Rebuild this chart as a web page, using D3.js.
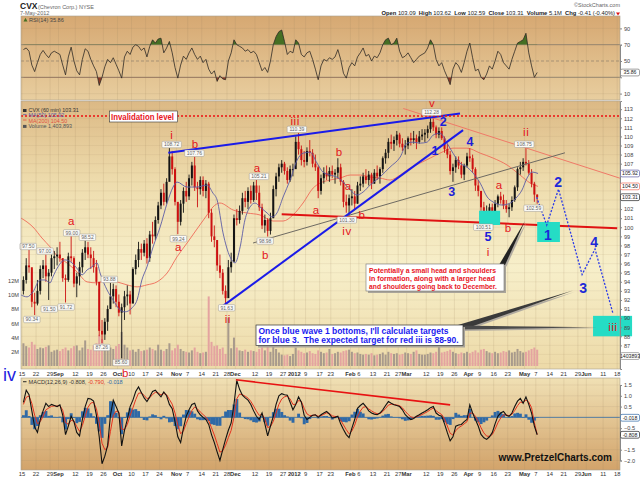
<!DOCTYPE html>
<html>
<head>
<meta charset="utf-8">
<script src="https://cdn.jsdelivr.net/npm/d3@7"></script>
<style>
  body { margin: 0; background: #fff; }
  svg { display: block; font-family: "Liberation Sans", Arial, sans-serif; }
</style>
</head>
<body>
<svg id="chart" width="640" height="479"></svg>
<script>
// ---------- calendar / axis ----------
var holidays = ["2011-09-05","2011-11-24","2011-12-26","2012-01-02","2012-01-16","2012-02-20","2012-04-06","2012-05-28"];
var tickLabels = [
  ["2011-08-15","15"],["2011-08-22","22"],["2011-08-29","29"],["2011-09-01","Sep"],["2011-09-12","12"],
  ["2011-09-19","19"],["2011-09-26","26"],["2011-10-03","Oct"],["2011-10-10","10"],["2011-10-17","17"],
  ["2011-10-24","24"],["2011-11-01","Nov"],["2011-11-07","7"],["2011-11-14","14"],["2011-11-21","21"],
  ["2011-11-28","28"],["2011-12-01","Dec"],["2011-12-12","12"],["2011-12-19","19"],["2011-12-27","27"],
  ["2012-01-03","2012"],["2012-01-09","9"],["2012-01-17","17"],["2012-01-23","23"],["2012-02-01","Feb"],
  ["2012-02-06","6"],["2012-02-13","13"],["2012-02-21","21"],["2012-02-27","27"],["2012-03-01","Mar"],
  ["2012-03-12","12"],["2012-03-19","19"],["2012-03-26","26"],["2012-04-02","Apr"],["2012-04-09","9"],
  ["2012-04-16","16"],["2012-04-23","23"],["2012-05-01","May"],["2012-05-07","7"],["2012-05-14","14"],
  ["2012-05-21","21"],["2012-05-29","29"],["2012-06-01","Jun"],["2012-06-11","11"],["2012-06-18","18"]
];

// ---------- daily price data (60 min chart read per trading day) ----------
var firstOpen = 93.0;
var dayLow = [
  92.6,93.8,95.0,91.2,90.34,91.4,92.6,94.4,94.0,92.0,94.6,95.4,95.8,
  96.2,94.0,91.72,94.0,96.2,93.4,92.3,93.6,95.0,96.4,96.6,95.4,95.0,93.6,88.0,87.26,87.6,88.6,91.0,91.6,91.2,
  90.2,85.6,89.8,91.4,90.4,92.6,94.8,95.6,96.4,96.8,96.0,96.2,98.2,98.6,100.4,102.0,102.4,102.6,105.6,105.8,102.4,
  99.24,100.2,101.6,102.8,103.0,104.6,104.0,102.2,103.6,103.4,103.2,101.0,98.4,97.8,95.2,94.4,92.6,91.63,93.8,95.0,97.8,
  100.2,100.4,101.4,102.2,102.0,102.6,102.8,103.0,101.8,99.8,99.4,98.98,99.2,101.0,103.4,105.0,106.0,105.8,104.8,105.0,105.6,
  107.0,108.0,106.8,106.6,106.8,107.8,106.6,106.2,103.2,103.6,104.8,105.2,105.0,105.4,104.8,105.4,104.6,102.2,101.6,101.3,
  102.4,102.0,102.6,104.0,104.4,104.8,104.6,104.2,104.8,105.2,104.8,106.0,107.0,107.6,108.6,108.4,109.0,108.8,108.4,108.0,
  108.6,109.0,109.2,108.6,109.2,109.6,109.4,109.8,110.4,110.6,109.8,109.8,109.6,108.2,107.6,105.8,105.0,106.0,106.4,105.4,105.2,106.6,
  107.2,106.0,104.0,103.4,101.8,100.8,100.51,100.7,100.8,101.0,102.2,102.6,102.0,101.6,101.1,101.8,102.8,104.0,105.8,106.2,
  106.8,105.8,104.4,102.8,102.59
];
var dayHigh = [
  94.6,96.6,97.5,95.4,92.8,94.2,95.8,96.4,97.0,95.4,97.0,97.4,97.8,
  98.4,96.6,94.8,97.2,99.0,96.8,95.0,96.2,97.6,98.52,98.4,97.8,97.4,96.4,93.2,89.8,90.0,91.4,93.88,93.8,93.6,
  92.6,91.6,93.0,93.6,93.0,95.6,97.0,98.4,98.2,98.6,98.8,99.6,100.6,101.2,102.8,104.2,104.8,105.4,108.72,108.4,106.6,
  102.6,103.0,104.4,105.0,105.8,107.2,107.76,105.0,105.6,105.6,105.2,105.0,102.0,100.2,98.4,97.0,95.4,93.6,96.4,97.2,101.4,
  102.0,102.4,103.8,104.0,104.4,104.6,105.0,105.21,104.6,102.6,101.4,101.0,101.6,104.6,106.0,107.0,107.4,107.2,106.6,106.8,107.0,
  110.0,110.39,109.0,108.4,108.8,109.6,108.6,108.0,106.8,105.8,106.6,106.8,106.6,106.8,106.4,107.6,107.0,105.2,103.6,103.6,
  104.2,104.0,105.0,105.6,106.0,106.4,106.2,106.0,106.4,106.8,106.6,107.8,108.6,109.8,110.2,110.0,110.6,110.4,109.8,109.6,
  110.0,110.4,110.6,110.2,110.6,110.8,110.8,111.2,112.0,112.28,111.2,111.0,111.0,110.0,109.2,108.4,107.0,107.8,107.8,107.2,107.0,108.2,
  108.7,108.0,106.6,105.2,104.0,102.8,102.4,102.6,102.6,103.0,103.6,103.9,103.6,103.0,102.6,103.4,104.6,106.6,107.2,107.6,
  108.75,107.4,106.4,105.0,103.62
];
var dayClose = [
  94.2,95.8,95.6,91.8,91.6,93.0,95.4,95.8,94.6,95.0,96.6,96.8,97.0,
  96.6,94.4,94.2,96.8,96.6,93.8,94.6,95.6,97.2,97.8,97.0,96.6,95.6,94.0,88.6,88.2,89.6,91.0,92.4,93.2,91.8,
  90.6,91.2,92.4,92.6,91.6,95.4,96.4,97.6,97.2,98.2,96.6,99.2,99.0,100.8,102.4,103.8,102.8,105.0,107.8,106.4,102.8,
  100.6,102.6,104.0,103.4,105.4,106.8,104.4,104.2,105.2,104.0,104.8,101.6,99.0,98.6,95.8,95.0,93.0,92.2,95.6,96.2,101.0,
  100.8,101.8,103.2,102.8,104.0,103.0,104.6,103.8,102.2,100.2,100.8,99.6,101.0,104.2,105.6,106.6,107.0,106.2,105.2,106.4,106.4,
  109.4,108.6,107.4,107.2,108.4,108.2,107.0,106.6,104.0,105.4,106.0,105.6,106.2,105.8,106.0,106.6,105.0,102.8,102.4,103.2,
  103.4,102.6,104.6,104.8,105.6,105.2,105.8,104.8,106.0,105.6,106.4,107.6,108.2,109.4,109.2,109.6,110.2,109.2,108.8,109.0,
  109.8,109.6,109.8,109.4,110.0,110.2,110.4,110.8,111.6,111.0,110.2,110.6,109.8,108.6,108.0,106.2,106.6,107.4,106.8,105.8,106.8,107.8,
  107.6,106.4,104.6,104.0,102.2,101.2,101.8,102.2,101.2,102.6,103.4,103.0,102.4,102.0,102.2,103.0,104.4,106.4,106.6,107.2,
  107.0,106.0,104.8,103.6,103.31
];
// hourly volume level per day, millions
var dayVolume = [
  3.2,2.8,2.6,3.4,3.0,2.4,2.6,2.5,2.7,2.9,2.0,2.2,2.3,
  2.1,2.4,2.6,2.2,2.5,2.8,2.9,2.2,2.6,3.6,2.4,2.3,2.9,3.2,4.4,3.8,2.7,2.9,2.6,2.4,2.8,
  3.1,4.8,3.0,2.6,2.2,2.3,2.0,2.4,2.1,2.2,2.3,2.6,2.4,2.2,3.0,2.3,2.1,2.4,3.2,2.2,2.5,
  3.0,2.4,2.1,2.0,1.9,2.2,2.6,2.0,1.8,1.9,2.0,9.8,3.4,2.8,2.9,2.4,2.6,1.7,6.8,2.5,4.0,
  2.6,2.2,2.1,2.3,2.0,2.2,2.1,2.0,2.4,2.6,2.2,3.4,2.0,2.8,2.4,1.9,1.6,1.5,1.6,1.4,1.7,
  2.6,2.2,2.0,1.8,1.9,2.1,1.8,1.7,2.2,2.0,1.8,1.9,2.4,1.7,1.8,2.0,1.9,2.1,2.2,2.3,
  2.0,1.8,1.9,1.7,1.6,1.7,1.6,1.8,1.5,1.6,1.7,1.9,1.6,2.0,1.8,1.7,1.8,1.6,1.7,1.9,
  1.8,1.7,2.0,2.2,1.7,1.6,1.6,1.7,1.9,1.8,2.0,3.0,1.9,2.0,2.1,2.3,2.0,1.8,1.7,1.9,1.8,2.0,
  1.8,2.0,2.2,1.9,2.3,2.4,2.1,1.9,1.8,2.0,1.8,1.9,2.1,2.0,2.2,1.9,2.0,2.4,2.1,1.9,
  2.0,2.2,2.4,2.6,2.3
];
var rsiValues = [
  64,66,62,45,37,48,58,63,58,54,60,62,60,
  58,45,33,55,67,50,38,33,52,65,62,52,44,37,20,30,43,52,48,54,46,
  38,29,55,62,58,67,70,68,63,66,55,68,76,72,77,78,60,66,74,60,42,
  29,45,56,52,60,66,58,52,56,48,52,40,34,38,25,32,28,27,50,60,76,
  70,68,66,62,64,60,62,58,48,38,42,36,50,70,80,86,88,74,58,62,60,
  76,72,58,55,60,62,52,40,27,44,52,50,54,52,55,64,52,35,29,42,
  48,44,55,60,66,56,58,50,56,54,60,70,76,78,70,72,78,62,54,56,
  60,54,48,52,56,58,60,66,76,70,52,44,48,38,30,21,40,48,44,36,48,62,
  72,54,38,40,30,27,34,44,40,50,62,58,48,44,40,52,62,72,74,76,
  84,60,44,30,35.86
];
var macdValues = [
  0.7,1.26,1.05,0.3,-0.45,-0.7,-0.1,0.3,0.65,0.5,0.6,0.55,0.5,
  0.58,0.1,-0.8,-0.4,0.05,-0.2,-0.7,-0.86,-0.1,0.5,0.88,0.85,0.75,0.1,-0.9,-2.15,-1.8,-1.3,0.1,0.8,0.5,
  0.2,-1.32,-0.6,-0.1,0.5,0.8,1.2,1.41,1.15,0.9,0.73,0.95,1.2,1.26,1.1,0.95,1.18,1.0,0.6,0.4,-0.2,
  -0.9,-1.17,-0.5,0.05,0.35,0.6,0.65,0.3,0.12,0.0,-0.1,-0.33,-0.8,-1.17,-1.6,-2.0,-1.5,-1.02,-0.6,-0.26,0.6,
  1.71,1.3,1.03,0.9,0.8,0.6,0.3,0.05,-0.1,0.2,-0.3,-0.86,-0.4,0.05,0.6,1.0,1.1,1.05,1.03,0.7,0.35,
  0.6,0.95,0.7,0.1,-0.1,0.0,0.1,0.12,0.0,0.12,0.2,0.27,0.15,-0.03,0.0,0.05,-0.3,-0.56,-0.8,-0.94,
  -0.5,-0.1,0.42,0.55,0.65,0.5,0.3,0.2,0.15,0.12,0.2,0.35,0.55,0.73,0.65,0.58,0.55,0.5,0.35,0.12,
  0.0,-0.1,-0.05,0.05,0.12,0.2,0.27,0.35,0.45,0.5,0.2,0.1,0.05,-0.3,-0.71,-1.09,-0.9,-0.41,-0.35,-0.33,-0.2,-0.1,
  0.58,0.2,-0.1,-0.4,-0.79,-0.95,-1.02,-0.9,-0.71,-0.3,0.05,0.2,0.27,0.1,0.05,0.2,0.5,0.75,0.88,0.65,
  0.95,0.6,0.2,-0.4,-0.808
];
var signalValues = [
  0.6,0.93,0.99,0.65,0.1,-0.3,-0.2,0.05,0.35,0.43,0.51,0.53,0.52,
  0.55,0.33,-0.24,-0.32,-0.14,-0.17,-0.43,-0.65,-0.38,0.06,0.47,0.66,0.7,0.4,-0.25,-1.2,-1.5,-1.4,-0.65,0.08,0.29,
  0.24,-0.54,-0.57,-0.33,0.08,0.44,0.82,1.12,1.13,1.02,0.87,0.91,1.06,1.16,1.13,1.04,1.11,1.05,0.83,0.61,0.2,
  -0.35,-0.76,-0.63,-0.29,0.03,0.32,0.48,0.39,0.25,0.13,0.01,-0.16,-0.48,-0.82,-1.21,-1.61,-1.55,-1.29,-0.94,-0.6,0.0,
  0.86,1.08,1.05,0.98,0.89,0.74,0.52,0.29,0.09,0.15,-0.08,-0.47,-0.43,-0.19,0.2,0.6,0.85,0.95,0.99,0.85,0.6,
  0.6,0.78,0.74,0.42,0.16,0.08,0.09,0.11,0.05,0.08,0.14,0.21,0.18,0.07,0.04,0.04,-0.13,-0.35,-0.57,-0.76,
  -0.63,-0.36,0.03,0.29,0.47,0.49,0.39,0.3,0.22,0.17,0.18,0.27,0.41,0.57,0.61,0.6,0.57,0.54,0.44,0.28,
  0.14,0.02,-0.01,0.02,0.07,0.13,0.2,0.27,0.36,0.43,0.31,0.21,0.13,-0.08,-0.4,-0.74,-0.82,-0.62,-0.48,-0.4,-0.3,-0.2,
  0.19,0.2,0.05,-0.18,-0.48,-0.72,-0.87,-0.88,-0.8,-0.55,-0.25,-0.03,0.12,0.11,0.08,0.14,0.32,0.54,0.71,0.68,
  0.81,0.71,0.45,-0.25,-0.79
];

// moving averages: [day index, price]
var ma50 = [[-0.4,92.56],[1.8,92.34],[3.9,92.89],[6.4,94.2],[8.2,94.2],[10,93.88],[11,94.54],[12.8,95.64],[15.3,96.41],[17.8,96.08],[20,95.31],[21.4,94.76],[23.2,95.31],[24.9,95.64],[26.7,96.08],[27.8,94.97],[30.3,93.1],[32.4,92.01],[34.9,90.91],[36.7,90.69],[39.2,91.13],[41,92.01],[42.7,94.2],[44.5,95.64],[46.7,97.84],[49.2,100.03],[51.7,102.67],[53.8,104.43],[55.2,104.98],[58.8,104.43],[62.3,104.43],[65.9,104.65],[68,103.77],[69.5,103],[71.6,99.38],[74.1,96.74],[75.9,96.08],[77.7,97.84],[79.4,100.8],[81.2,102.23],[83,102.67],[84.8,102.23],[87.3,101.57],[89.1,101.13],[90.8,101.57],[93,103.33],[95.5,105.2],[98,107.4],[100.1,108.16],[102.6,108.27],[105.1,107.06],[107.2,106.07],[109.7,105.75],[112.2,105.51],[114.4,104.98],[116.9,104.1],[119.3,103.55],[121.5,103.88],[124,104.65],[127.5,105.53],[131.1,106.63],[134.7,107.73],[137.2,109.26],[139.3,109.37],[141.8,109.26],[144.3,109.37],[146.4,110.14],[148.9,110.36],[151.4,109.26],[153.5,108.16],[156,107.06],[158.5,106.62],[160.7,105.96],[163.2,104.86],[165.7,103.33],[167.8,102.78],[171,102.45],[173.9,102.67],[176.3,103.33],[178.1,104.1],[179.9,105.42],[181.7,106.08],[183.8,105.92]];
var ma200 = [[-0.4,101.02],[1.8,100.58],[3.9,100.03],[7.1,98.82],[10,97.84],[12.8,96.74],[16,96.08],[19.6,95.09],[23.2,93.99],[26.7,93.88],[30.3,94.2],[33.8,93.99],[37.4,93.66],[41,93.44],[44.5,93.66],[48.1,93.99],[51.7,94.97],[55.2,96.74],[58.8,98.27],[62.3,99.8],[65.9,101.35],[68,102.23],[70.5,102.67],[75.2,101.9],[80.2,101.57],[84.8,101.35],[89.4,100.69],[93,100.69],[96.5,101.35],[100.1,102.67],[103.7,104.32],[106.2,104.87],[109.7,105.2],[113.3,105.42],[116.9,105.75],[120.4,105.75],[124,105.53],[127.5,105.42],[131.1,105.2],[134.7,105.75],[138.2,106.52],[141.8,107.07],[145.4,107.62],[148.9,108.16],[153.5,108.71],[158.5,108.71],[163.2,108.16],[167.8,107.62],[172.8,106.85],[177.4,105.75],[181,104.87],[183.8,104.5]];

// ---------- annotations (day index, price) ----------
var invalidationLevel = 112.25;
var blueUpper = [[52.1,108.2],[156.0,112.53]];
var blueLower = [[71.1,91.24],[157.1,110.7]];
var grayRise = [[82.3,98.27],[193.4,108.2]];
var salmonFall = [[135.8,113.08],[213,105.4]];
var neckline = [[92.5,101.43],[212,99.9]];
var projection = [[183.3,103.31],[186.9,100.25],[191.1,104.2],[199.5,94.8],[204.1,97.6],[210.5,90.5]];
var cyanBoxes = [[162.8,170.3,100.25,101.82],[183.5,191.6,98.38,100.58],[203.4,217.3,88.0,90.25]];
var macdTrend = [[76.2,1.74],[152.5,0.58]];
var redWaves = [["a",17.5,100.69],["i",53.3,110.2],["b",61.6,109.15],["a",55.6,97.8],["iii",97.3,111.75],
  ["a",83.7,106.52],["b",86.6,96.95],["ii",73.3,89.9],["b",112.9,108.31],["a",116.1,104.54],["a",104.7,101.9],
  ["b",121.0,101.41],["iv",115.8,99.6],["v",146.0,113.75],["ii",179.6,110.5],["a",169.9,104.65],["b",173.1,99.89],
  ["i",166.0,97.3],["iii",210.5,89.08],["b",36.8,83.95]];
var blueWaves = [["2",150.0,111.6],["1",147.1,108.49],["4",159.6,109.41],["3",153.1,103.91],["5",166.0,99.0]];
var projWaves = [["1",187.3,99.15],["2",191.0,104.98],["3",199.9,93.3],["4",203.8,98.42]];
// value flags: [day index, price, 1 above / -1 below]
var priceFlags = [[2.2,97.50,1],[3.5,90.34,-1],[8.2,97.00,1],[9.7,91.50,-1],[17.7,99.00,1],[15.7,91.72,-1],
  [23.3,98.52,1],[31.1,93.88,1],[28.4,87.26,-1],[35.3,85.60,-1],[53.3,108.72,1],[61.4,107.76,1],[55.7,99.24,-1],
  [84.4,105.21,1],[86.6,98.98,-1],[97.9,110.39,1],[72.9,91.63,-1],[115.7,101.30,-1],[145.9,112.28,1],
  [164.3,100.51,-1],[178.9,108.75,1],[182.2,102.59,-1]];

// ---------- setup ----------
var fmt = d3.utcFormat("%Y-%m-%d");
var days = d3.utcDays(new Date(Date.UTC(2011,7,15)), new Date(Date.UTC(2012,5,23)))
  .filter(function(d){ return d.getUTCDay() % 6 !== 0 && holidays.indexOf(fmt(d)) < 0; })
  .map(fmt);
var dayIndex = {};
days.forEach(function(d, i){ dayIndex[d] = i; });

var L = 21, R = 620;
var panel = {rsi: [16, 100], main: [101, 369], macd: [378, 470]};

var x = d3.scaleLinear().domain([-0.36, 213]).range([L, R]);
var yP = d3.scaleLinear().domain([84.4, 113.9]).range([369, 101]);
var yV = d3.scaleLinear().domain([0, 12]).range([366, 280.8]);
var yR = d3.scaleLinear().domain([30, 70]).range([77.3, 44.7]);
var yM = d3.scaleLinear().domain([-2, 1.5]).range([460.5, 385]);

var svg = d3.select("#chart");
var defs = svg.append("defs");

function gradient(id, stops) {
  var g = defs.append("linearGradient").attr("id", id)
      .attr("x1", 0).attr("y1", 0).attr("x2", 0).attr("y2", 1);
  stops.forEach(function(s){ g.append("stop").attr("offset", s[0]).attr("stop-color", s[1]); });
}
gradient("bgRsi", [[0, "#d6a872"], [1, "#e8ce9f"]]);
gradient("bgMain", [[0, "#dcb985"], [0.3, "#eedcad"], [0.62, "#f7efca"], [1, "#eddaa8"]]);
gradient("bgMacd", [[0, "#f0e0b4"], [1, "#d2a36a"]]);

function clip(id, y0, y1) {
  defs.append("clipPath").attr("id", id).append("rect")
      .attr("x", L).attr("y", y0).attr("width", R - L).attr("height", y1 - y0);
}
clip("cRsi", panel.rsi[0], panel.rsi[1]);
clip("cMain", panel.main[0], panel.main[1]);
clip("cMacd", panel.macd[0], panel.macd[1]);
defs.append("clipPath").attr("id", "cOver70").append("rect")
    .attr("x", L).attr("y", 0).attr("width", R - L).attr("height", yR(70));
defs.append("clipPath").attr("id", "cUnder30").append("rect")
    .attr("x", L).attr("y", yR(30)).attr("width", R - L).attr("height", 100 - yR(30));

// panel backgrounds
[["rsi", "bgRsi"], ["main", "bgMain"], ["macd", "bgMacd"]].forEach(function(p){
  svg.append("rect").attr("x", L).attr("y", panel[p[0]][0])
     .attr("width", R - L).attr("height", panel[p[0]][1] - panel[p[0]][0])
     .attr("fill", "url(#" + p[1] + ")");
});

// vertical grid
var ticks = tickLabels.map(function(t){ return {i: dayIndex[t[0]], label: t[1]}; });
["rsi", "main", "macd"].forEach(function(p){
  svg.append("g").selectAll("line").data(ticks).enter().append("line")
     .attr("x1", function(d){ return x(d.i); }).attr("x2", function(d){ return x(d.i); })
     .attr("y1", panel[p][0]).attr("y2", panel[p][1])
     .attr("stroke", "#9c8462").attr("stroke-opacity", 0.28).attr("stroke-width", 0.6);
});

// horizontal grid
svg.append("g").selectAll("line").data(d3.range(85, 114)).enter().append("line")
   .attr("x1", L).attr("x2", R).attr("y1", function(d){ return yP(d); }).attr("y2", function(d){ return yP(d); })
   .attr("stroke", "#9c8462").attr("stroke-opacity", 0.18).attr("stroke-width", 0.6);
svg.append("g").selectAll("line").data([-2, -1.5, -1, -0.5, 0.5, 1, 1.5]).enter().append("line")
   .attr("x1", L).attr("x2", R).attr("y1", function(d){ return yM(d); }).attr("y2", function(d){ return yM(d); })
   .attr("stroke", "#9c8462").attr("stroke-opacity", 0.22).attr("stroke-width", 0.6);
svg.append("g").selectAll("line").data([10, 90]).enter().append("line")
   .attr("x1", L).attr("x2", R).attr("y1", function(d){ return yR(d); }).attr("y2", function(d){ return yR(d); })
   .attr("stroke", "#9c8462").attr("stroke-opacity", 0.22).attr("stroke-width", 0.6);

// ---------- RSI ----------
var gR = svg.append("g").attr("clip-path", "url(#cRsi)");
[30, 70].forEach(function(v){
  gR.append("line").attr("x1", L).attr("x2", R).attr("y1", yR(v)).attr("y2", yR(v))
    .attr("stroke", "#8c7f6c").attr("stroke-width", 0.9);
});
gR.append("line").attr("x1", L).attr("x2", R).attr("y1", yR(50)).attr("y2", yR(50))
  .attr("stroke", "#8c7f6c").attr("stroke-width", 0.7).attr("stroke-dasharray", "3,2");
var rsiArea = function(base){
  return d3.area().x(function(d, i){ return x(i + 0.5); }).y0(yR(base)).y1(function(d){ return yR(d); });
};
gR.append("g").attr("clip-path", "url(#cOver70)").append("path")
  .attr("d", rsiArea(70)(rsiValues)).attr("fill", "#456f23");
gR.append("g").attr("clip-path", "url(#cUnder30)").append("path")
  .attr("d", rsiArea(30)(rsiValues)).attr("fill", "#8e3b27");
gR.append("path").attr("d", d3.line().x(function(d, i){ return x(i + 0.5); }).y(function(d){ return yR(d); })(rsiValues))
  .attr("fill", "none").attr("stroke", "#2e2a24").attr("stroke-width", 0.8);

// ---------- main panel ----------
var ohlc = dayClose.map(function(c, i){
  return {i: i, lo: dayLow[i], hi: dayHigh[i], c: c, o: i ? dayClose[i - 1] : firstOpen, v: dayVolume[i]};
});
var gM = svg.append("g").attr("clip-path", "url(#cMain)");

gM.selectAll("rect.vol").data(ohlc).enter().append("rect")
  .attr("x", function(d){ return x(d.i) + 0.4; }).attr("width", 2)
  .attr("y", function(d){ return yV(d.v); })
  .attr("height", function(d){ return yV(0) - yV(d.v); })
  .attr("fill", function(d){ return d.c >= d.o ? "#a89a8c" : "#e4a3a0"; });

// cyan target boxes (price bars show through)
svg.append("g").selectAll("rect").data(cyanBoxes).enter().append("rect")
  .attr("x", function(d){ return x(d[0]); }).attr("width", function(d){ return x(d[1]) - x(d[0]); })
  .attr("y", function(d){ return yP(d[3]); }).attr("height", function(d){ return yP(d[2]) - yP(d[3]); })
  .attr("fill", "#25dcc5");

var ma = d3.line().curve(d3.curveMonotoneX).x(function(d){ return x(d[0]); }).y(function(d){ return yP(d[1]); });
gM.append("path").attr("d", ma(ma200)).attr("fill", "none").attr("stroke", "#ef6a58").attr("stroke-width", 0.9);

var upCol = "#141414", dnCol = "#cc1111";
gM.selectAll("line.wick").data(ohlc).enter().append("line")
  .attr("x1", function(d){ return x(d.i + 0.5); }).attr("x2", function(d){ return x(d.i + 0.5); })
  .attr("y1", function(d){ return yP(d.hi); }).attr("y2", function(d){ return yP(d.lo); })
  .attr("stroke", function(d){ return d.c >= d.o ? upCol : dnCol; }).attr("stroke-width", 0.9);
gM.selectAll("rect.body").data(ohlc).enter().append("rect")
  .attr("x", function(d){ return x(d.i + 0.5) - 1; }).attr("width", 2)
  .attr("y", function(d){ return yP(Math.max(d.o, d.c)); })
  .attr("height", function(d){ return Math.max(1, Math.abs(yP(d.o) - yP(d.c))); })
  .attr("fill", function(d){ return d.c >= d.o ? upCol : dnCol; });

gM.append("path").attr("d", ma(ma50)).attr("fill", "none").attr("stroke", "#5c5ca6").attr("stroke-width", 0.9);

var seg = d3.line().x(function(d){ return x(d[0]); }).y(function(d){ return yP(d[1]); });
gM.append("path").attr("d", seg(salmonFall)).attr("stroke", "#f07a68").attr("stroke-width", 1).attr("fill", "none");
gM.append("path").attr("d", seg(grayRise)).attr("stroke", "#6e6a62").attr("stroke-width", 1).attr("fill", "none");
gM.append("path").attr("d", seg(neckline)).attr("stroke", "#e01212").attr("stroke-width", 2).attr("fill", "none");
gM.append("path").attr("d", seg(blueUpper)).attr("stroke", "#1b1be8").attr("stroke-width", 2).attr("fill", "none");
gM.append("path").attr("d", seg(blueLower)).attr("stroke", "#1b1be8").attr("stroke-width", 2).attr("fill", "none");
gM.append("line").attr("x1", L).attr("x2", R).attr("y1", yP(invalidationLevel)).attr("y2", yP(invalidationLevel))
  .attr("stroke", "#ee1111").attr("stroke-width", 1.4).attr("stroke-dasharray", "2,2");
svg.append("path").attr("d", seg(projection)).attr("stroke", "#2a3ae8").attr("stroke-width", 1.3)
  .attr("stroke-dasharray", "2,1.6").attr("fill", "none");

// value flags
var flags = svg.append("g");
priceFlags.forEach(function(f){
  var txt = f[1].toFixed(2), w = txt.length * 2.9 + 2;
  var cx = x(f[0]), cy = yP(f[1]) - (f[2] > 0 ? 3.5 : -4.5);
  flags.append("rect").attr("x", cx - w / 2).attr("y", cy - 3.2).attr("width", w).attr("height", 6.4)
    .attr("rx", 1).attr("fill", "#fbfaf6").attr("stroke", "#9a968e").attr("stroke-width", 0.5);
  flags.append("text").attr("x", cx).attr("y", cy + 1.9).attr("text-anchor", "middle")
    .attr("font-size", 5).attr("fill", "#666").text(txt);
});

// wave labels
var waves = svg.append("g").attr("text-anchor", "middle");
redWaves.forEach(function(w){
  waves.append("text").attr("x", x(w[1])).attr("y", yP(w[2])).attr("dy", "0.36em")
    .attr("font-size", 11.5).attr("fill", "#e3141c").attr("letter-spacing", w[0].length > 1 ? 0.6 : 0).text(w[0]);
});
blueWaves.forEach(function(w){
  waves.append("text").attr("x", x(w[1])).attr("y", yP(w[2])).attr("dy", "0.36em")
    .attr("font-size", 12.5).attr("font-weight", "bold").attr("fill", "#1d1dd8").text(w[0]);
});
projWaves.forEach(function(w){
  waves.append("text").attr("x", x(w[1])).attr("y", yP(w[2])).attr("dy", "0.36em")
    .attr("font-size", 14).attr("font-weight", "bold").attr("fill", "#1d2ad8").text(w[0]);
});
svg.append("text").attr("x", 3).attr("y", 381).attr("font-size", 18).attr("fill", "#1d1de0").text("iv");

// invalidation label
svg.append("rect").attr("x", 109.5).attr("y", 111).attr("width", 68).attr("height", 11)
  .attr("fill", "#fff").attr("stroke", "#333").attr("stroke-width", 0.6);
svg.append("text").attr("x", 111).attr("y", 119.8).attr("font-size", 8.3).attr("font-weight", "bold")
  .attr("fill", "#e8141e").attr("textLength", 63).attr("lengthAdjust", "spacingAndGlyphs").text("Invalidation level");

// callouts
function wedge(pts, col, dx) {
  svg.append("polygon").attr("points", pts.map(function(p){ return (p[0] + dx) + "," + (p[1] + dx); }).join(" "))
    .attr("fill", col);
}
wedge([[499, 265], [505, 265], [525, 221]], "#b0aaa0", 1.5);
wedge([[499, 265], [505, 265], [525, 221]], "#222", 0);
wedge([[458, 325], [462, 330], [573, 290.5]], "#b0aaa0", 1.5);
wedge([[458, 325], [462, 330], [573, 290.5]], "#3a3a3a", 0);
wedge([[458, 325.5], [458, 329.5], [597, 327.3]], "#b0aaa0", 1.5);
wedge([[458, 325.5], [458, 329.5], [597, 327.3]], "#4a4a4a", 0);

var redNote = ["Potentially a small head and shoulders", "in formation, along with a larger head", "and shoulders going back to December."];
var redW = [127, 126, 128];
svg.append("rect").attr("x", 368).attr("y", 266).attr("width", 138).attr("height", 27).attr("fill", "#a9a49a");
svg.append("rect").attr("x", 366).attr("y", 264).attr("width", 138).attr("height", 27)
  .attr("fill", "#fff").attr("stroke", "#777").attr("stroke-width", 0.6);
redNote.forEach(function(t, k){
  svg.append("text").attr("x", 369).attr("y", 272.6 + k * 8).attr("font-size", 7.2).attr("font-weight", "bold")
    .attr("fill", "#e8141e").attr("textLength", redW[k]).attr("lengthAdjust", "spacingAndGlyphs").text(t);
});

var blueNote = ["Once blue wave 1 bottoms, I'll calculate targets", "for blue 3.  The expected target for red iii is 88-90."];
var blueW = [190, 200];
svg.append("rect").attr("x", 258).attr("y", 327).attr("width", 207).attr("height", 20.5).attr("fill", "#a9a49a");
svg.append("rect").attr("x", 256).attr("y", 325).attr("width", 207).attr("height", 20.5)
  .attr("fill", "#fff").attr("stroke", "#333").attr("stroke-width", 0.7);
blueNote.forEach(function(t, k){
  svg.append("text").attr("x", 258.5).attr("y", 333.6 + k * 9.8).attr("font-size", 8.6).attr("font-weight", "bold")
    .attr("fill", "#1a1af0").attr("textLength", blueW[k]).attr("lengthAdjust", "spacingAndGlyphs")
    .style("white-space", "pre").text(t);
});

// ---------- MACD ----------
var gD = svg.append("g").attr("clip-path", "url(#cMacd)");
gD.selectAll("rect.hist").data(macdValues).enter().append("rect")
  .attr("x", function(d, i){ return x(i); }).attr("width", x(1) - x(0) + 0.1)
  .attr("y", function(d, i){ return yM(Math.max(0, d - signalValues[i])); })
  .attr("height", function(d, i){ return Math.abs(yM(d - signalValues[i]) - yM(0)); })
  .attr("fill", "#2f69a6");
gD.append("line").attr("x1", L).attr("x2", R).attr("y1", yM(0)).attr("y2", yM(0))
  .attr("stroke", "#2f69a6").attr("stroke-width", 0.8);
var mline = d3.line().x(function(d, i){ return x(i + 0.5); }).y(function(d){ return yM(d); });
gD.append("path").attr("d", mline(signalValues)).attr("fill", "none").attr("stroke", "#e5321e").attr("stroke-width", 1);
gD.append("path").attr("d", mline(macdValues)).attr("fill", "none").attr("stroke", "#111").attr("stroke-width", 1.1);
gD.append("path").attr("d", d3.line().x(function(d){ return x(d[0]); }).y(function(d){ return yM(d[1]); })(macdTrend))
  .attr("stroke", "#e81212").attr("stroke-width", 1.6).attr("fill", "none");
svg.append("text").attr("x", 612).attr("y", 461).attr("text-anchor", "end").attr("font-size", 10)
  .attr("font-weight", "bold").attr("fill", "#111").text("www.PretzelCharts.com");

// ---------- frames ----------
["rsi", "main", "macd"].forEach(function(p){
  svg.append("rect").attr("x", L).attr("y", panel[p][0]).attr("width", R - L)
     .attr("height", panel[p][1] - panel[p][0]).attr("fill", "none").attr("stroke", "#a8a090").attr("stroke-width", 0.6);
});

// ---------- axes ----------
function styleAxis(g) {
  g.selectAll("text").attr("font-size", 5.6).attr("fill", "#444");
  g.selectAll("line").attr("stroke", "#888");
  g.select(".domain").attr("stroke", "#888");
}
svg.append("g").attr("transform", "translate(" + R + ",0)")
  .call(d3.axisRight(yP).tickValues(d3.range(87, 114).filter(function(v){ return v < 103 || v > 106; }))
        .tickSize(2).tickPadding(2).tickFormat(d3.format("d"))).call(styleAxis);
svg.append("g").attr("transform", "translate(" + R + ",0)")
  .call(d3.axisRight(yR).tickValues([10, 50, 70, 90]).tickSize(2).tickPadding(2)).call(styleAxis);
svg.append("g").attr("transform", "translate(" + R + ",0)")
  .call(d3.axisRight(yM).tickValues([-2, -1.5, -0.5, 0.5, 1, 1.5]).tickSize(2).tickPadding(2)
        .tickFormat(d3.format(".1f"))).call(styleAxis);
svg.append("g").attr("transform", "translate(" + L + ",0)")
  .call(d3.axisLeft(yV).tickValues([2, 4, 6, 8, 10, 12]).tickSize(0).tickPadding(2)
        .tickFormat(function(d){ return d + "M"; })).call(styleAxis)
  .select(".domain").remove();

// date labels
var months = ["Sep", "Oct", "Nov", "Dec", "2012", "Feb", "Mar", "Apr", "May", "Jun"];
[376, 475.5].forEach(function(yy){
  svg.append("g").selectAll("text").data(ticks).enter().append("text")
    .attr("x", function(d){ return x(d.i); }).attr("y", yy).attr("text-anchor", "middle")
    .attr("font-size", 5.8).attr("fill", "#333")
    .attr("font-weight", function(d){ return months.indexOf(d.label) >= 0 ? "bold" : "normal"; })
    .text(function(d){ return d.label; });
});

// value tags on the right axis
function tag(y, txt, col) {
  svg.append("rect").attr("x", 620.5).attr("y", y - 3.4).attr("width", 19).attr("height", 6.8).attr("rx", 1.5)
    .attr("fill", "#fff").attr("stroke", col).attr("stroke-width", 0.7);
  svg.append("text").attr("x", 630).attr("y", y + 1.9).attr("text-anchor", "middle")
    .attr("font-size", 5.2).attr("fill", "#222").text(txt);
}
tag(yR(35.86), "35.86", "#777");
tag(yP(105.92), "105.92", "#5c5ca6");
tag(yP(104.50), "104.50", "#ef6a58");
tag(yP(103.31), "103.31", "#222");
tag(yV(1.404), "1403893", "#888");
tag(yM(-0.018), "-0.018", "#2f69a6");
tag(yM(-0.808), "-0.808", "#222");

// ---------- header & legends ----------
svg.append("text").attr("x", 20).attr("y", 8.5).attr("font-size", 8.5).attr("font-weight", "bold").attr("fill", "#222").text("CVX");
svg.append("text").attr("x", 38).attr("y", 8.5).attr("font-size", 5.5).attr("fill", "#666").text("(Chevron Corp.) NYSE");
svg.append("text").attr("x", 20).attr("y", 14.5).attr("font-size", 5.5).attr("fill", "#666").text("7-May-2012");
svg.append("text").attr("x", 620).attr("y", 7).attr("text-anchor", "end").attr("font-size", 5.5).attr("fill", "#666").text("©StockCharts.com");
var hdr = svg.append("text").attr("x", 615).attr("y", 14.8).attr("text-anchor", "end").attr("font-size", 5.8)
  .attr("fill", "#222").style("white-space", "pre");
[["Open", 1], [" 103.09  ", 0], ["High", 1], [" 103.62  ", 0], ["Low", 1], [" 102.59  ", 0], ["Close", 1],
 [" 103.31  ", 0], ["Volume", 1], [" 5.1M  ", 0], ["Chg", 1], [" -0.41 (-0.40%)", 0]].forEach(function(p){
  hdr.append("tspan").attr("font-weight", p[1] ? "bold" : "normal").text(p[0]);
});
svg.append("path").attr("d", "M616,12.6 L620,12.6 L618,15.4 Z").attr("fill", "#d11");

svg.append("path").attr("d", "M23.5,21.5 L25.5,17.8 L27.5,21.5 Z").attr("fill", "#456f23");
svg.append("text").attr("x", 29).attr("y", 21.6).attr("font-size", 5.6).attr("fill", "#444").text("RSI(14) 35.86");

var legend = [["CVX (60 min) 103.31", "#333"], ["MA(50) 105.92", "#5c5ca6"], ["MA(200) 104.50", "#e0503e"], ["Volume 1,403,893", "#555"]];
legend.forEach(function(l, k){
  var yy = 112 + k * 5.3;
  svg.append("rect").attr("x", 23).attr("y", yy - 3).attr("width", 3.5).attr("height", k === 1 || k === 2 ? 0.8 : 3)
    .attr("fill", l[1]);
  svg.append("text").attr("x", 28.5).attr("y", yy).attr("font-size", 5.4).attr("fill", l[1]).text(l[0]);
});

var ml = svg.append("text").attr("x", 28.5).attr("y", 383.5).attr("font-size", 5.6).attr("fill", "#333").style("white-space", "pre");
svg.append("rect").attr("x", 23).attr("y", 381.3).attr("width", 3.5).attr("height", 0.9).attr("fill", "#111");
ml.append("tspan").text("MACD(12,26,9) -0.808, ");
ml.append("tspan").attr("fill", "#e5321e").text("-0.790, ");
ml.append("tspan").attr("fill", "#2f69a6").text("-0.018");
</script>
</body>
</html>
